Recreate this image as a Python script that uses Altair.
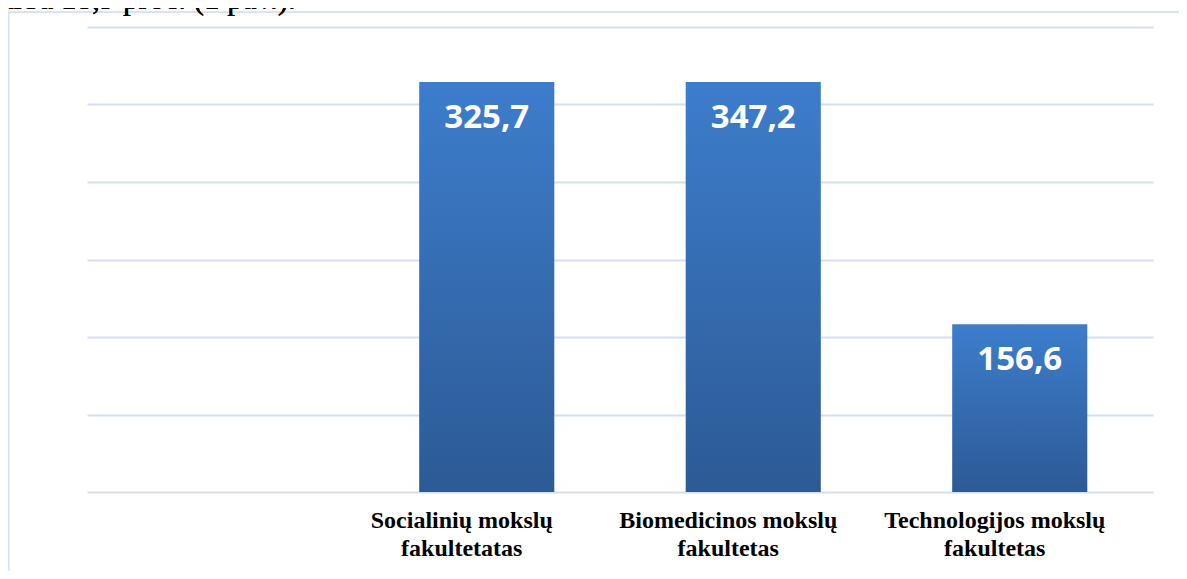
import altair as alt
import pandas as pd

# Categories (first slot is empty in the reference chart)
categories = ["", "Socialinių mokslų|fakultetatas", "Biomedicinos mokslų|fakultetas", "Technologijos mokslų|fakultetas"]
bar_categories = categories[1:]
# Bar heights (in gridline units; gridlines are unlabelled)
bar_heights = [5.29, 5.29, 2.165]
# Value labels printed in the bars
value_labels = ["325,7", "347,2", "156,6"]
grid_values = [0, 1, 2, 3, 4, 5, 6]

df = pd.DataFrame({"cat": bar_categories, "h": bar_heights, "label": value_labels})

W, H = 1066, 465

x_enc = alt.X(
    "cat:N",
    scale=alt.Scale(domain=categories, paddingInner=0.493, paddingOuter=0.2465),
    axis=alt.Axis(
        title=None, ticks=False, domain=False, grid=False,
        labelExpr="split(datum.value, '|')",
        labelFont="Liberation Serif", labelFontWeight="bold", labelFontSize=24,
        labelColor="#000000", labelLineHeight=28, labelPadding=16,
        labelOffset=-25, labelAngle=0, labelLimit=400,
    ),
)
y_scale = alt.Scale(domain=[0, 6], nice=False, zero=True)
y_axis = alt.Axis(
    title=None, labels=False, ticks=False, domain=False,
    values=grid_values, grid=True, gridColor="#d4e0f1", gridWidth=2,
)

gradient = alt.Gradient(
    gradient="linear",
    stops=[alt.GradientStop(color="#3d7dcc", offset=0),
           alt.GradientStop(color="#2c5a95", offset=1)],
    x1=0, x2=0, y1=0, y2=1,
)

base = alt.Chart(df)

bars = base.mark_bar(color=gradient).encode(
    x=x_enc,
    y=alt.Y("h:Q", scale=y_scale, axis=y_axis),
)

labels = base.mark_text(
    color="white", font="Open Sans", fontWeight="bold", fontSize=33,
    baseline="middle", dy=36,
).encode(
    x=alt.X("cat:N"),
    y=alt.Y("h:Q"),
    text="label:N",
)

frame_left = alt.Chart(df).mark_rule(color="#d6e2f2", strokeWidth=1.5).encode(
    x=alt.value(-78.5), y=alt.value(-14.7), y2=alt.value(H + 120)
)
frame_top = alt.Chart(df).mark_rule(color="#d6e2f2", strokeWidth=1.5).encode(
    x=alt.value(-79), x2=alt.value(W + 40), y=alt.value(-14.7)
)

top_text = alt.Chart(df).mark_text(
    font="Liberation Serif", fontSize=31, align="left", baseline="alphabetic",
    color="#000000",
).encode(
    x=alt.value(-87), y=alt.value(-18), text=alt.value("arba 18,9  proc. (1 pav.).")
)

chart = alt.layer(frame_left, frame_top, top_text, bars, labels).properties(
    width=W, height=H,
    background="white",
    autosize=alt.AutoSizeParams(type="none"),
    padding={"left": 79, "top": 19, "right": 26, "bottom": 79},
).configure_view(stroke="transparent", strokeWidth=0)

chart.save("out.html", embed_options={"renderer": "svg", "actions": False})
